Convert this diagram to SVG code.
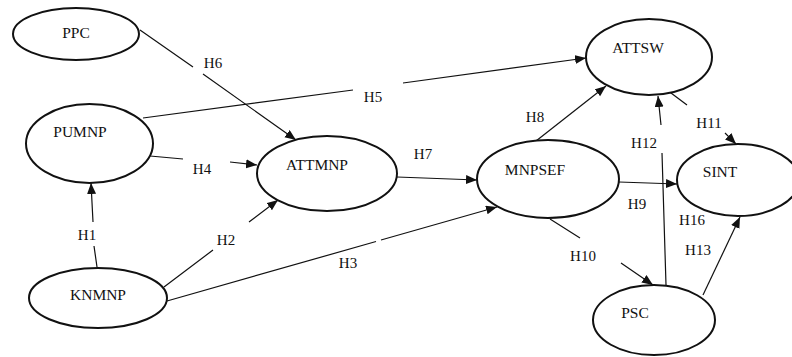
<svg xmlns="http://www.w3.org/2000/svg" width="792" height="357" viewBox="0 0 792 357">
  <style>
    .node ellipse { fill: #ffffff; stroke: #111111; stroke-width: 2; }
    .node text, .lbl { font-family: "Liberation Serif", "Times New Roman", serif; fill: #111111; text-anchor: middle; }
    .node text { font-size: 15.5px; }
    .lbl { font-size: 15px; }
    .edge { fill: none; stroke: #111111; stroke-width: 1.2; marker-end: url(#arrow); }
  </style>
  <defs>
    <marker id="arrow" markerUnits="userSpaceOnUse" markerWidth="12" markerHeight="10" refX="11" refY="4.5" orient="auto">
      <path d="M0,0 L11,4.5 L0,9 z" fill="#111111"/>
    </marker>
  </defs>
  <rect width="792" height="357" fill="#ffffff"/>

  <!-- connectors (gaps leave room for the hypothesis labels) -->
  <g id="connectors">
    <path class="edge" d="M140,30 L193,67 M203,74 L296,140"/>
    <path class="edge" d="M143,118 L353,90 M403,83 L586,58"/>
    <path class="edge" d="M150,156 L183,159 M230,162 L257,165"/>
    <path class="edge" d="M397,177 L477,180"/>
    <path class="edge" d="M97,267 L94,246 M93,222 L91,183"/>
    <path class="edge" d="M164,287 L213,250 M249,222 L278,200"/>
    <path class="edge" d="M167,301 L376,241.5 M381,240 L497,207"/>
    <path class="edge" d="M536,141 L606,86"/>
    <path class="edge" d="M666,285 L662,153 M661,125 L658,96"/>
    <path class="edge" d="M667,90 L687,105 M725,133 L736,144"/>
    <path class="edge" d="M619,182 L677,184"/>
    <path class="edge" d="M550,219 L580,238 M621,263 L653,285"/>
    <path class="edge" d="M703,295 L740,217"/>
  </g>

  <!-- hypothesis labels -->
  <g id="labels">
    <text class="lbl" x="213" y="68">H6</text>
    <text class="lbl" x="373" y="102">H5</text>
    <text class="lbl" x="202" y="174">H4</text>
    <text class="lbl" x="423" y="159">H7</text>
    <text class="lbl" x="87" y="240">H1</text>
    <text class="lbl" x="226" y="245">H2</text>
    <text class="lbl" x="348" y="268">H3</text>
    <text class="lbl" x="535" y="122">H8</text>
    <text class="lbl" x="644" y="148">H12</text>
    <text class="lbl" x="709" y="128">H11</text>
    <text class="lbl" x="637" y="209">H9</text>
    <text class="lbl" x="583" y="261">H10</text>
    <text class="lbl" x="698" y="255">H13</text>
    <text class="lbl" x="692" y="225">H16</text>
  </g>

  <!-- constructs -->
  <g id="PPC" class="node">
    <ellipse cx="76" cy="34" rx="63" ry="26"/>
    <text x="76" y="38">PPC</text>
  </g>
  <g id="PUMNP" class="node">
    <ellipse cx="89.5" cy="143.5" rx="63.5" ry="39.5"/>
    <text x="80" y="137">PUMNP</text>
  </g>
  <g id="ATTMNP" class="node">
    <ellipse cx="327" cy="173.5" rx="70" ry="37.5"/>
    <text x="317" y="170">ATTMNP</text>
  </g>
  <g id="MNPSEF" class="node">
    <ellipse cx="548" cy="179" rx="71" ry="39"/>
    <text x="535" y="175">MNPSEF</text>
  </g>
  <g id="ATTSW" class="node">
    <ellipse cx="649" cy="57" rx="63" ry="38"/>
    <text x="638" y="53">ATTSW</text>
  </g>
  <g id="SINT" class="node">
    <ellipse cx="738" cy="180" rx="61" ry="36"/>
    <text x="720" y="177">SINT</text>
  </g>
  <g id="PSC" class="node">
    <ellipse cx="654" cy="320" rx="61" ry="35"/>
    <text x="635" y="318">PSC</text>
  </g>
  <g id="KNMNP" class="node">
    <ellipse cx="98" cy="298" rx="69" ry="30"/>
    <text x="98" y="300">KNMNP</text>
  </g>
</svg>
